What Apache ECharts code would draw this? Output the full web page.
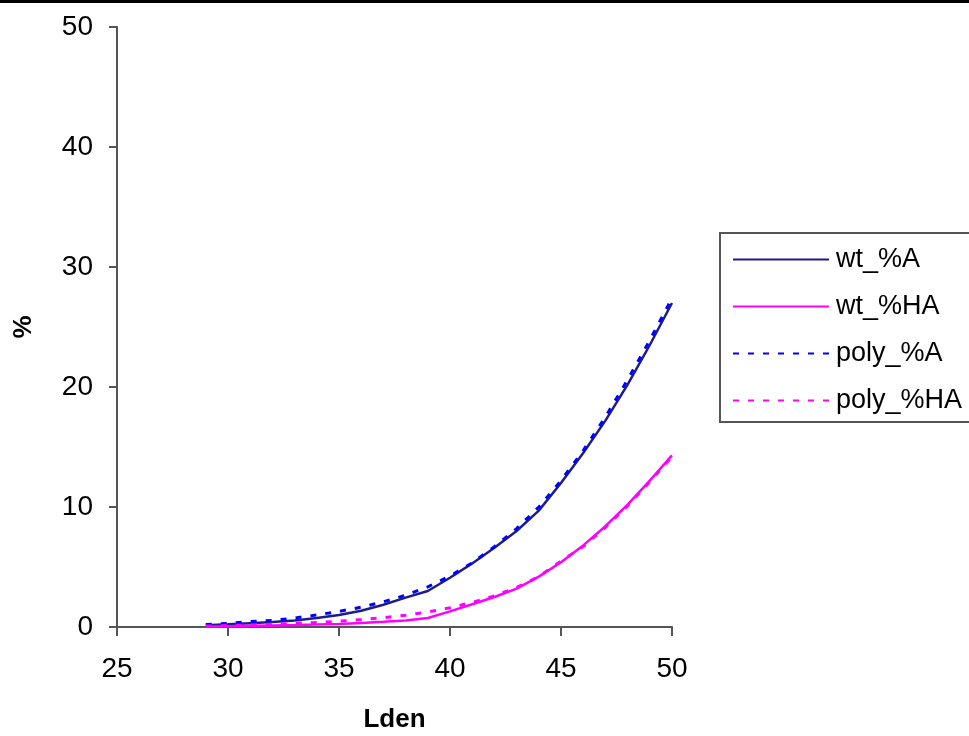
<!DOCTYPE html>
<html>
<head>
<meta charset="utf-8">
<script src="https://cdn.jsdelivr.net/npm/echarts@6/dist/echarts.min.js"></script>
<style>
  html, body { margin: 0; padding: 0; background: #fff; }
  #chart { width: 969px; height: 736px; }
</style>
</head>
<body>
<div id="chart"></div>
<script>
// Lden values (x)
var lden = [29, 30, 31, 32, 33, 34, 35, 36, 37, 38, 39, 40, 41, 42, 43, 44, 45, 46, 47, 48, 49, 50];
// series values
var wtA    = [0.15, 0.22, 0.32, 0.42, 0.55, 0.75, 1.0, 1.35, 1.85, 2.45, 3.0, 4.1, 5.3, 6.6, 8.0, 9.7, 12.0, 14.5, 17.2, 20.2, 23.5, 27.0];
var wtHA   = [0.05, 0.07, 0.1, 0.13, 0.16, 0.2, 0.25, 0.33, 0.43, 0.55, 0.75, 1.3, 1.9, 2.5, 3.2, 4.2, 5.4, 6.8, 8.4, 10.2, 12.2, 14.3];
var polyA  = [0.2, 0.3, 0.45, 0.55, 0.75, 1.0, 1.3, 1.65, 2.1, 2.65, 3.35, 4.25, 5.35, 6.7, 8.2, 10.0, 12.2, 14.7, 17.5, 20.6, 23.9, 27.4];
var polyHA = [0.08, 0.12, 0.17, 0.23, 0.3, 0.38, 0.48, 0.62, 0.78, 0.98, 1.25, 1.6, 2.05, 2.6, 3.3, 4.2, 5.5, 6.7, 8.3, 10.1, 12.1, 14.2];

function pairs(ys) {
  return lden.map(function (x, i) { return [x, ys[i]]; });
}

var chart = echarts.init(document.getElementById('chart'));
var font = 'Liberation Sans, Arial, sans-serif';
var axisCol = '#555';

chart.setOption({
  backgroundColor: '#fff',
  animation: false,
  textStyle: { fontFamily: font },
  grid: { left: 117, right: 297, top: 27, bottom: 109, containLabel: false, outerBoundsMode: 'none' },
  xAxis: {
    type: 'value',
    min: 25, max: 50, interval: 5,
    name: 'Lden',
    nameLocation: 'middle',
    nameGap: 80,
    nameTextStyle: { fontSize: 26, fontWeight: 'bold', color: '#000', fontFamily: font },
    axisLine: { onZero: false, lineStyle: { color: axisCol, width: 2 } },
    axisTick: { length: 9, lineStyle: { color: axisCol, width: 2 } },
    axisLabel: { fontSize: 28, color: '#000', margin: 28, fontFamily: font },
    splitLine: { show: false }
  },
  yAxis: {
    type: 'value',
    min: 0, max: 50, interval: 10,
    name: '%',
    nameLocation: 'middle',
    nameRotate: 90,
    nameGap: 80,
    nameTextStyle: { fontSize: 26, fontWeight: 'bold', color: '#000', fontFamily: font },
    axisLine: { show: true, lineStyle: { color: axisCol, width: 2 } },
    axisTick: { show: true, length: 8, lineStyle: { color: axisCol, width: 2 } },
    axisLabel: { fontSize: 28, color: '#000', margin: 24, fontFamily: font },
    splitLine: { show: false }
  },
  legend: {
    orient: 'vertical',
    left: 720, top: 233,
    padding: [13, 60, 8, 12],
    itemWidth: 96, itemHeight: 14, itemGap: 20,
    borderColor: '#555', borderWidth: 2,
    itemStyle: { opacity: 0 },
    textStyle: { fontSize: 27, color: '#000', fontFamily: font, padding: [0, 0, 0, 2] },
    data: ['wt_%A', 'wt_%HA', 'poly_%A', 'poly_%HA']
  },
  graphic: [
    { type: 'rect', left: 0, top: 0, shape: { width: 969, height: 3 }, style: { fill: '#000' } }
  ],
  series: [
    { name: 'wt_%A', type: 'line', symbol: 'none', data: pairs(wtA),
      lineStyle: { color: '#1c1c8a', width: 2.5 }, itemStyle: { color: '#1c1c8a' } },
    { name: 'wt_%HA', type: 'line', symbol: 'none', data: pairs(wtHA),
      lineStyle: { color: '#ff00ff', width: 2.5 }, itemStyle: { color: '#ff00ff' } },
    { name: 'poly_%A', type: 'line', symbol: 'none', data: pairs(polyA),
      lineStyle: { color: '#0000ff', width: 3, type: [6, 9] }, itemStyle: { color: '#0000ff' } },
    { name: 'poly_%HA', type: 'line', symbol: 'none', data: pairs(polyHA),
      lineStyle: { color: '#ff00ff', width: 3, type: [6, 9] }, itemStyle: { color: '#ff00ff' } }
  ]
});
</script>
</body>
</html>
